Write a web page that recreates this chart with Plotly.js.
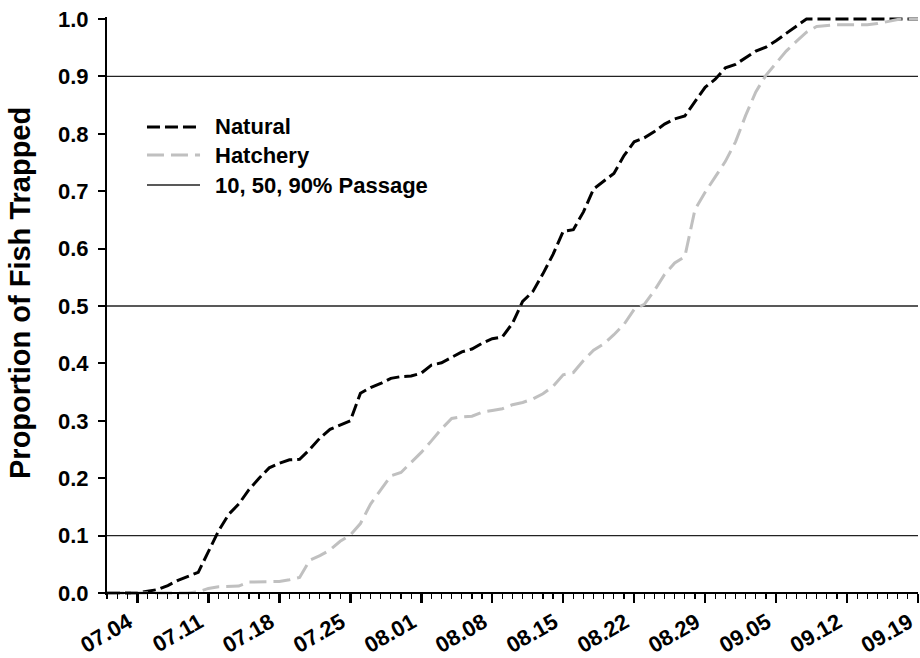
<!DOCTYPE html>
<html>
<head>
<meta charset="utf-8">
<script src="https://cdn.plot.ly/plotly-3.0.1.min.js"></script>
<style>
  html, body { margin: 0; padding: 0; background: #fff; }
  #chart { width: 920px; height: 658px; }
</style>
</head>
<body>
<div id="chart"></div>
<script>
// Cumulative proportion of fish trapped per day, 1 July - 19 September
const startDate = [2003, 6, 1];   // year, month index, day

const natural = [
  0, 0, 0, 0, 0.003, 0.006, 0.013, 0.022, 0.029, 0.036,
  0.072, 0.108, 0.137, 0.155, 0.180, 0.200, 0.218, 0.226, 0.232, 0.233,
  0.250, 0.270, 0.285, 0.293, 0.300, 0.348, 0.358, 0.365, 0.374, 0.377,
  0.378, 0.383, 0.397, 0.401, 0.411, 0.420, 0.425, 0.435, 0.443, 0.446,
  0.470, 0.508, 0.525, 0.556, 0.590, 0.630, 0.633, 0.664, 0.704, 0.718,
  0.731, 0.762, 0.786, 0.793, 0.804, 0.817, 0.826, 0.831, 0.855, 0.881,
  0.895, 0.915, 0.921, 0.932, 0.944, 0.951, 0.962, 0.975, 0.988, 1.0,
  1.0, 1.0, 1.0, 1.0, 1.0, 1.0, 1.0, 1.0, 1.0, 1.0, 1.0
];

const hatchery = [
  0, 0, 0, 0, 0, 0, 0, 0, 0, 0.002,
  0.008, 0.011, 0.012, 0.012, 0.019, 0.019, 0.019, 0.020, 0.023, 0.027,
  0.057, 0.065, 0.075, 0.090, 0.101, 0.121, 0.155, 0.180, 0.204, 0.210,
  0.227, 0.245, 0.265, 0.286, 0.304, 0.307, 0.308, 0.315, 0.318, 0.321,
  0.328, 0.332, 0.338, 0.347, 0.360, 0.380, 0.384, 0.405, 0.423, 0.434,
  0.450, 0.468, 0.494, 0.503, 0.527, 0.555, 0.575, 0.586, 0.668, 0.698,
  0.725, 0.752, 0.786, 0.832, 0.873, 0.902, 0.923, 0.944, 0.961, 0.977,
  0.987, 0.989, 0.990, 0.990, 0.990, 0.990, 0.992, 0.996, 0.999, 1.0, 1.0
];

// 10, 50 and 90% passage reference levels
const passageLevels = [0.1, 0.5, 0.9];

const yTicks = [0, 0.1, 0.2, 0.3, 0.4, 0.5, 0.6, 0.7, 0.8, 0.9, 1.0];

const legendLabels = ['Natural', 'Hatchery', '10, 50, 90% Passage'];
const yTitle = 'Proportion of Fish Trapped';

function dayString(i) {
  const d = new Date(Date.UTC(startDate[0], startDate[1], startDate[2] + i));
  return d.toISOString().slice(0, 10);
}
const dates = natural.map((_, i) => dayString(i));
const firstDay = dates[0];
const lastDay = dates[dates.length - 1];

// one broken trace holding all three horizontal passage lines
const passX = [], passY = [];
passageLevels.forEach(v => {
  passX.push(firstDay, lastDay, null);
  passY.push(v, v, null);
});

const FONT = 'Liberation Sans, Arial, sans-serif';
const naturalStyle = { color: '#000000', width: 3, dash: '13px,5px' };
const hatcheryStyle = { color: '#c0c0c0', width: 3, dash: '17px,7px' };
const passageStyle = { color: '#222222', width: 1.3 };

const traces = [
  { x: passX, y: passY, mode: 'lines', name: legendLabels[2], line: passageStyle, hoverinfo: 'skip' },
  { x: dates, y: natural, mode: 'lines', name: legendLabels[0], line: naturalStyle },
  { x: dates, y: hatchery, mode: 'lines', name: legendLabels[1], line: hatcheryStyle }
];

// y-range padded a touch so the lines at 0 and 1 are not clipped
const yLo = -0.0035, yHi = 1.0035;

// hand-drawn legend block in the upper left of the plot
const legendRows = [0.8097, 0.7612, 0.7093];
const legendStyles = [naturalStyle, hatcheryStyle, passageStyle];
const shapes = legendRows.map((yy, i) => ({
  type: 'line', xref: 'paper', yref: 'paper',
  x0: 0.0493, x1: 0.1147, y0: yy, y1: yy,
  line: legendStyles[i]
}));
const annotations = legendRows.map((yy, i) => ({
  xref: 'paper', yref: 'paper', x: 0.1307, y: yy,
  xanchor: 'left', yanchor: 'middle', showarrow: false,
  text: '<b>' + legendLabels[i] + '</b>',
  font: { family: FONT, size: 22, color: '#000' }
}));

// vertical y-axis title placed left of the tick labels
annotations.push({
  xref: 'paper', yref: 'paper', x: -0.1073, y: 0.5225,
  xanchor: 'center', yanchor: 'middle', showarrow: false,
  textangle: -90,
  text: '<b>' + yTitle + '</b>',
  font: { family: FONT, size: 29, color: '#000' }
});

const layout = {
  width: 920, height: 658,
  margin: { l: 107, r: 2, t: 17, b: 63 },
  paper_bgcolor: '#ffffff',
  plot_bgcolor: '#ffffff',
  showlegend: false,
  font: { family: FONT, size: 22, color: '#000' },
  xaxis: {
    type: 'date',
    range: [firstDay, lastDay],
    anchor: 'free',
    position: (0 - yLo) / (yHi - yLo),
    tick0: dates[3],
    dtick: 7 * 86400000,
    tickformat: '%m.%d',
    tickangle: -30,
    ticklabeloverflow: 'allow',
    ticklabelshift: -9,
    ticklabelstandoff: -2,
    ticks: 'outside', ticklen: 9, tickwidth: 2.5, tickcolor: '#000',
    minor: { dtick: 86400000, ticks: 'outside', ticklen: 5, tickwidth: 1.2, tickcolor: '#000' },
    showline: true, linecolor: '#000', linewidth: 2,
    showgrid: false, zeroline: false,
    tickfont: { family: FONT, size: 22, color: '#000', weight: 'bold' }
  },
  yaxis: {
    range: [yLo, yHi],
    tickvals: yTicks,
    tickformat: '.1f',
    ticks: 'outside', ticklen: 7, tickwidth: 2, tickcolor: '#000',
    ticklabelstandoff: 5,
    showline: true, linecolor: '#000', linewidth: 2,
    showgrid: false, zeroline: false,
    tickfont: { family: FONT, size: 22, color: '#000', weight: 'bold' }
  },
  shapes: shapes,
  annotations: annotations
};

Plotly.newPlot('chart', traces, layout, { staticPlot: true, displayModeBar: false });
</script>
</body>
</html>
